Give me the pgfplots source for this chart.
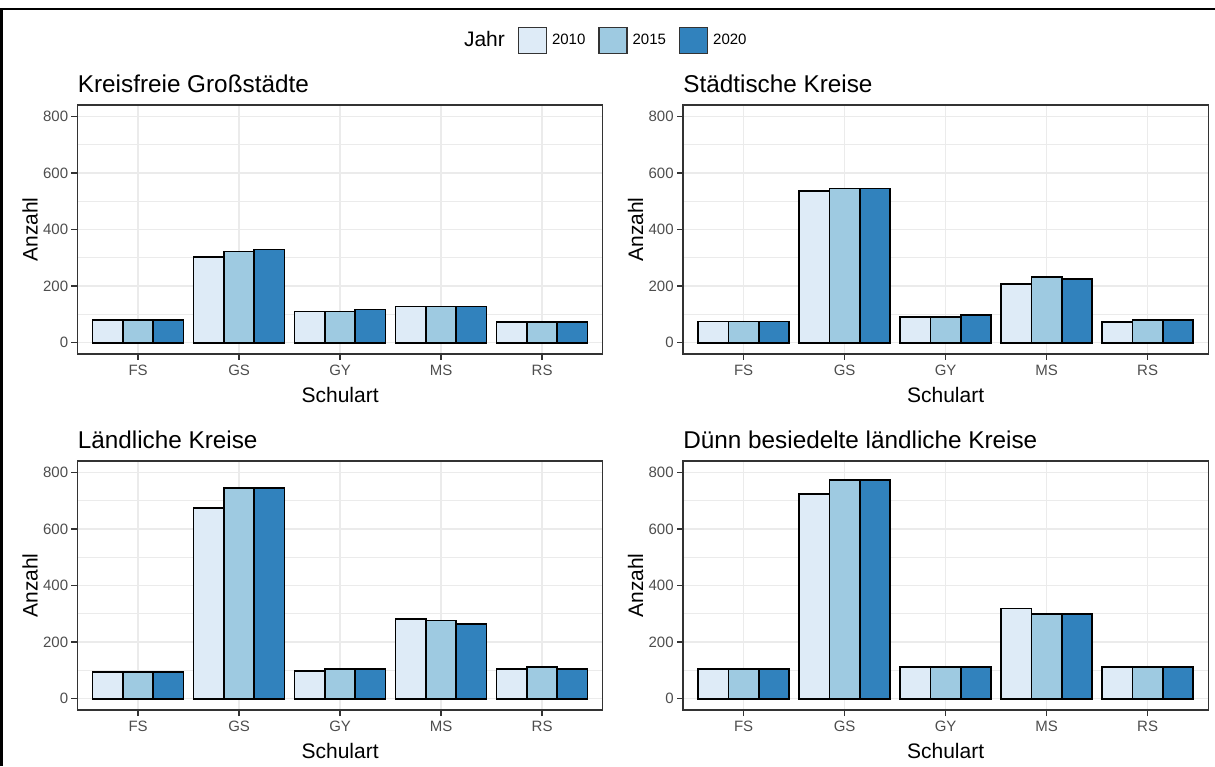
\documentclass[border=0pt]{standalone}
\usepackage{fontspec}
\setmainfont{Liberation Sans}
\usepackage{pgfplots}
\pgfplotsset{compat=1.18}
\definecolor{c10}{HTML}{DEEBF7}
\definecolor{c15}{HTML}{9ECAE1}
\definecolor{c20}{HTML}{3182BD}
\definecolor{gridc}{HTML}{EBEBEB}
\definecolor{framec}{HTML}{333333}
\definecolor{tickl}{HTML}{4D4D4D}
\pgfplotsset{
 panel/.style={
  scale only axis, width=262.6pt, height=124.5pt,
  anchor=south west,
  xmin=0.4, xmax=5.6, ymin=-40, ymax=840,
  xtick={1,2,3,4,5}, xticklabels={FS,GS,GY,MS,RS},
  ytick={0,200,400,600,800}, minor ytick={100,300,500,700},
  grid=both,
  major grid style={gridc, line width=0.6pt},
  minor grid style={gridc, line width=0.35pt},
  axis line style={framec, line width=0.6pt},
  tick style={framec, line width=0.6pt},
  tick align=outside, tick pos=left,
  major tick length=3pt, minor tick length=0pt,
  ticklabel style={font=\fontsize{7.5}{9}\selectfont, text=tickl},
  yticklabel style={inner sep=1.5pt},
  xticklabel style={inner sep=2.5pt},
  /pgf/number format/assume math mode=true,
  ybar, bar width=0.3,
  xlabel={Schulart}, ylabel={Anzahl},
  label style={font=\fontsize{10.5}{12}\selectfont},
  xlabel style={at={(axis description cs:0.5,-0.165)}, anchor=center},
  ylabel style={at={(axis description cs:-0.09,0.5)}, anchor=center},
  title style={at={(axis description cs:0,1)}, anchor=base west, yshift=0.5pt, inner sep=0pt, font=\fontsize{12.15}{14}\selectfont},
  every axis plot/.append style={draw=black, line width=0.85pt},
 },
 s1/.style={fill=c10, bar shift=-0.3},
 s2/.style={fill=c15, bar shift=0},
 s3/.style={fill=c20, bar shift=0.3},
}
\begin{document}
\begin{tikzpicture}
\useasboundingbox (0,0) rectangle (607.5pt,383pt);
% Panel 1
\begin{axis}[panel, at={(38.75pt,206pt)}, title={Kreisfreie Großstädte},
  legend style={at={(axis description cs:1.004,1.258)}, anchor=center, draw=none, fill=none,
    legend columns=4, font=\fontsize{7.5}{9}\selectfont,
    /tikz/every even column/.append style={column sep=4.5pt},
    /tikz/every odd column/.append style={column sep=0.5pt}},
  legend image code/.code={\draw[#1, draw=framec, line width=0.6pt] (0pt,-6.5pt) rectangle (14pt,6.5pt);}]
\addlegendimage{empty legend}
\addlegendentry{\fontsize{10.5}{12}\selectfont Jahr}
\addplot[s1] coordinates {(1,80) (2,304) (3,110) (4,128) (5,74)};
\addlegendentry{2010}
\addplot[s2] coordinates {(1,80) (2,322) (3,110) (4,128) (5,74)};
\addlegendentry{2015}
\addplot[s3] coordinates {(1,80) (2,329) (3,117) (4,128) (5,74)};
\addlegendentry{2020}
\end{axis}
% Panel 2
\begin{axis}[panel, at={(341.5pt,206pt)}, title={Städtische Kreise}]
\addplot[s1] coordinates {(1,75) (2,535) (3,91) (4,208) (5,73)};
\addplot[s2] coordinates {(1,75) (2,545) (3,91) (4,232) (5,80)};
\addplot[s3] coordinates {(1,75) (2,545) (3,98) (4,225) (5,80)};
\end{axis}
% Panel 3
\begin{axis}[panel, at={(38.75pt,28pt)}, title={Ländliche Kreise}]
\addplot[s1] coordinates {(1,94) (2,673) (3,99) (4,282) (5,105)};
\addplot[s2] coordinates {(1,94) (2,745) (3,105) (4,276) (5,112)};
\addplot[s3] coordinates {(1,94) (2,745) (3,105) (4,264) (5,105)};
\end{axis}
% Panel 4
\begin{axis}[panel, at={(341.5pt,28pt)}, title={Dünn besiedelte ländliche Kreise}]
\addplot[s1] coordinates {(1,105) (2,723) (3,111) (4,319) (5,111)};
\addplot[s2] coordinates {(1,105) (2,772) (3,111) (4,300) (5,111)};
\addplot[s3] coordinates {(1,105) (2,772) (3,111) (4,300) (5,111)};
\end{axis}
\draw[black, line width=1.4pt] (0.7pt,0pt) -- (0.7pt,378.5pt) -- (607.5pt,378.5pt);
\end{tikzpicture}
\end{document}
